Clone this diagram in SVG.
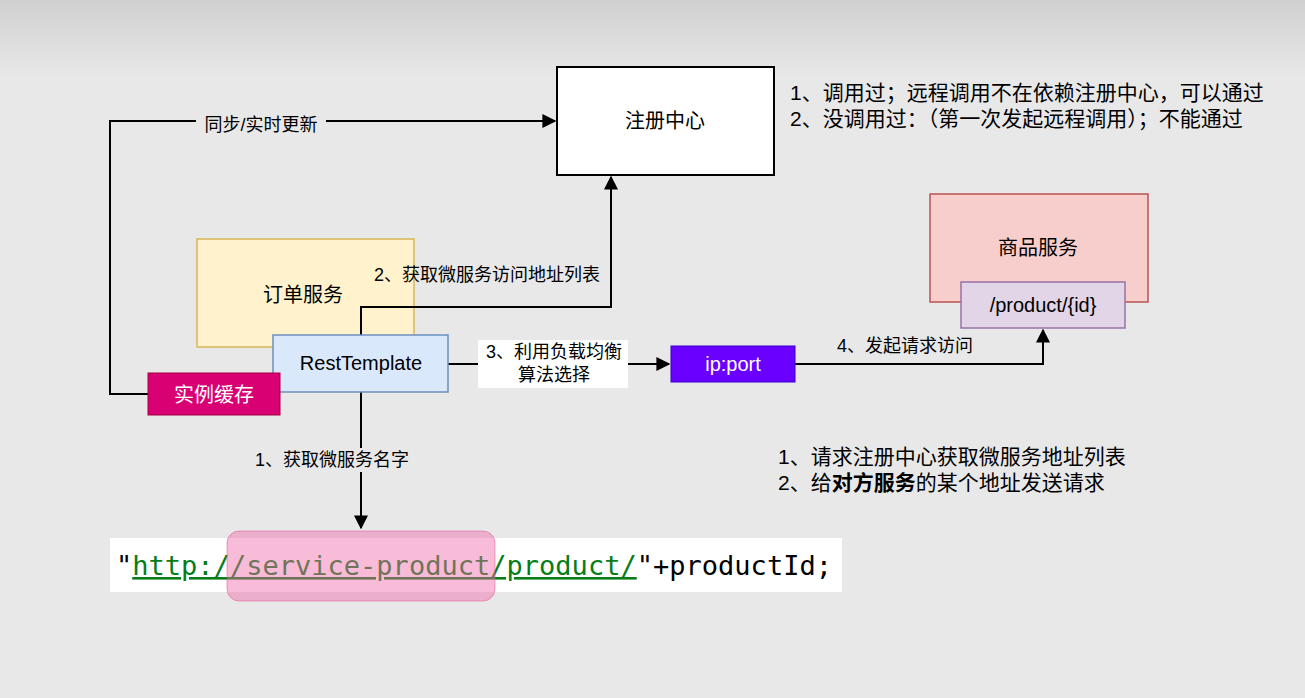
<svg xmlns="http://www.w3.org/2000/svg" width="1305" height="698" viewBox="0 0 1305 698">
<defs>
<linearGradient id="bg" x1="0" y1="0" x2="0" y2="1"><stop offset="0" stop-color="#d0d0d0"/><stop offset="0.11" stop-color="#e8e8e8"/><stop offset="1" stop-color="#e8e8e8"/></linearGradient>
<marker id="a" viewBox="0 0 10 10" refX="9" refY="5" markerWidth="7" markerHeight="7" orient="auto"><path d="M0,0L10,5L0,10z" fill="#000"/></marker>
<style>
text{font-family:"Liberation Sans","Noto Sans CJK SC",sans-serif;fill:#000}
.n{font-size:20px;text-anchor:middle}
.l{font-size:18px;text-anchor:middle}
.c{stroke:#000;stroke-width:2;fill:none}
.r{font-size:21px}
</style>
</defs>
<rect width="1305" height="698" fill="url(#bg)"/>
<g id="registry"><rect x="557" y="67" width="217" height="108" fill="#fff" stroke="#000" stroke-width="2"/><text class="n" x="665" y="128">注册中心</text></g>
<g id="order"><rect x="197" y="239" width="217" height="108" fill="#fff2cc" stroke="#d6b656" stroke-width="1.5"/><text class="n" x="303" y="302">订单服务</text></g>
<g id="product"><rect x="930" y="194" width="218" height="108" fill="#f8cecc" stroke="#b85450" stroke-width="1.5"/><text class="n" x="1038" y="255">商品服务</text></g>
<g id="connectors">
<path class="c" d="M148,394H110V121H555" marker-end="url(#a)"/>
<rect x="196" y="112" width="130" height="24" fill="#e8e8e8"/>
<text class="l" x="261" y="131">同步/实时更新</text>
<path class="c" d="M361,335V307H611V177" marker-end="url(#a)"/>
<text class="l" x="487" y="281">2、获取微服务访问地址列表</text>
<path class="c" d="M448,364H669" marker-end="url(#a)"/>
<rect x="478" y="340" width="150" height="48" fill="#fff"/>
<text class="l" x="554" y="358">3、利用负载均衡</text>
<text class="l" x="554" y="381">算法选择</text>
<path class="c" d="M795,364H1043V330" marker-end="url(#a)"/>
<rect x="828" y="335" width="156" height="22" fill="#e8e8e8"/>
<text class="l" x="905" y="352">4、发起请求访问</text>
<path class="c" d="M361,392V528" marker-end="url(#a)"/>
<rect x="244" y="448" width="178" height="24" fill="#e8e8e8"/>
<text class="l" x="332" y="466">1、获取微服务名字</text>
</g>
<g id="rest"><rect x="273" y="335" width="175" height="57" fill="#dae8fc" stroke="#6c8ebf" stroke-width="1.5"/><text class="n" x="361" y="370">RestTemplate</text></g>
<g id="cache"><rect x="148" y="373" width="132" height="42" fill="#d80073" stroke="#a50040" stroke-width="1"/><text class="n" x="214" y="402" style="fill:#fff">实例缓存</text></g>
<g id="pid"><rect x="961" y="282" width="164" height="46" fill="#e1d5e7" stroke="#9673a6" stroke-width="1.5"/><text class="n" x="1043" y="312">/product/{id}</text></g>
<g id="ipport"><rect x="671" y="346" width="124" height="36" fill="#6a00ff" stroke="#3700cc"/><text class="n" x="733" y="371" style="fill:#fff">ip:port</text></g>
<g id="code">
<rect x="110" y="538" width="732" height="54" fill="#fff"/>
<text x="116" y="575" style="font-family:'DejaVu Sans Mono',monospace;font-size:26px" textLength="716" lengthAdjust="spacingAndGlyphs"><tspan style="fill:#000">"</tspan><tspan style="fill:#067d17;text-decoration:underline">http://service-product/product/</tspan><tspan style="fill:#000">"+productId;</tspan></text>
<rect x="227" y="531" width="268" height="70" rx="12" fill="#f06aa8" fill-opacity="0.45" stroke="#e05090" stroke-opacity="0.5"/>
</g>
<g id="notes">
<text class="r" x="790" y="100">1、调用过；远程调用不在依赖注册中心，可以通过</text>
<text class="r" x="790" y="126">2、没调用过：（第一次发起远程调用）；不能通过</text>
<text class="r" x="778" y="464">1、请求注册中心获取微服务地址列表</text>
<text class="r" x="778" y="490">2、给<tspan font-weight="bold">对方服务</tspan>的某个地址发送请求</text>
</g>
</svg>
